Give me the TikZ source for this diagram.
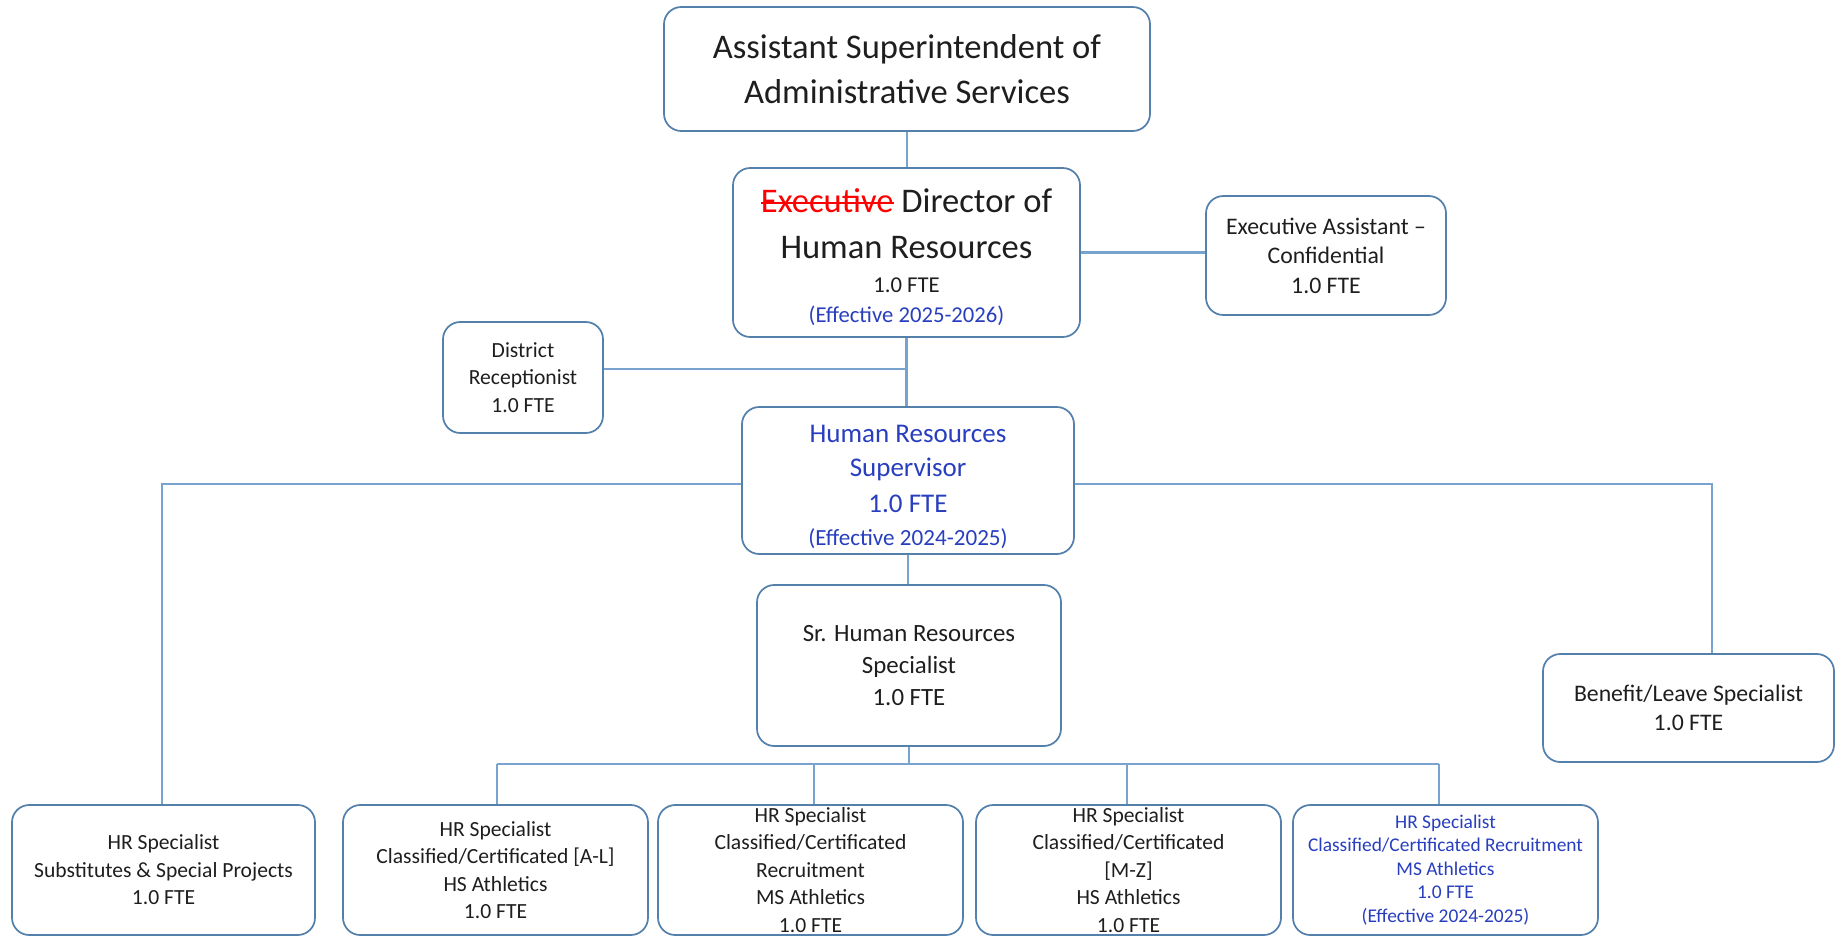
\documentclass[tikz,border=0pt]{standalone}
\usepackage{fontspec}
\setmainfont{Carlito}
\definecolor{boxc}{RGB}{84,128,172}
\definecolor{linec}{RGB}{120,163,206}
\definecolor{txt}{RGB}{30,30,30}
\definecolor{bluet}{RGB}{40,62,190}
\newcommand\setfs[2]{\fontsize{#1}{#2}\selectfont}
\newcommand\strk[1]{\setbox0=\hbox{#1}\leavevmode\rlap{\copy0}\rule[0.25em]{\wd0}{0.075em}}
\newcommand\tallfirst[2]{\raisebox{0pt}[\dimexpr\height+#1\relax][\depth]{#2}}
\tikzset{
  box/.style={draw=boxc, line width=0.8pt, rounded corners=8pt, inner sep=0pt, align=center, text=txt},
  sz/.style 2 args={minimum width=#1*0.463pt, minimum height=#2*0.463pt},
  conn/.style={draw=linec, line width=1pt},
}
\begin{document}
\begin{tikzpicture}[x=0.463pt, y=-0.463pt]
\useasboundingbox (0,0) rectangle (1837,937);
% boxes
\node[box, sz={486}{124}, font=\setfs{16}{20.5}] (title) at (907,69)
  {Assistant Superintendent of\\Administrative Services};
\node[box, sz={347}{169}, font=\setfs{16}{19.4}] (dir) at (906.5,252.5)
  {\tallfirst{4.6pt}{\textcolor{red}{\strk{Executive}} Director of}\\[1.7pt]Human Resources\\[-3.8pt]{\setfs{10.5}{12.6}1.0 FTE}\\[-5.3pt]{\setfs{10.5}{12.6}\color{bluet}(Effective 2025-2026)}};
\node[box, sz={240}{119}, font=\setfs{11}{13.6}] (exec) at (1326,255.5)
  {Executive Assistant --\\Confidential\\1.0 FTE};
\node[box, sz={160}{111}, font=\setfs{10}{12.7}] (dist) at (523,377.5)
  {District\\Receptionist\\1.0 FTE};
\node[box, sz={332}{147}, font=\setfs{12.5}{15.7}, text=bluet] (sup) at (908,480.5)
  {\tallfirst{5.6pt}{Human Resources}\\Supervisor\\[1.4pt]1.0 FTE\\[-0.8pt]{\setfs{10.7}{13}(Effective 2024-2025)}};
\node[box, sz={304}{161}, font=\setfs{11.5}{14.6}] (srhr) at (909,665.5)
  {Sr. Human Resources\\Specialist\\1.0 FTE};
\node[box, sz={291}{108}, font=\setfs{11}{13.4}] (ben) at (1688.5,708)
  {Benefit/Leave Specialist\\1.0 FTE};
\node[box, sz={303}{130}, font=\setfs{10}{12.7}] (b1) at (163.5,870)
  {HR Specialist\\Substitutes \& Special Projects\\1.0 FTE};
\node[box, sz={305}{130}, font=\setfs{10}{12.7}] (b2) at (495.5,870)
  {HR Specialist\\Classified/Certificated [A-L]\\HS Athletics\\1.0 FTE};
\node[box, sz={305}{130}, font=\setfs{10}{12.7}] (b3) at (810.5,870)
  {HR Specialist\\Classified/Certificated\\Recruitment\\MS Athletics\\1.0 FTE};
\node[box, sz={305}{130}, font=\setfs{10}{12.7}] (b4) at (1128.5,870)
  {HR Specialist\\Classified/Certificated\\{[M-Z]}\\HS Athletics\\1.0 FTE};
\node[box, sz={305}{130}, font=\setfs{9}{10.9}, text=bluet] (b5) at (1445.5,870)
  {HR Specialist\\Classified/Certificated Recruitment\\MS Athletics\\1.0 FTE\\(Effective 2024-2025)};
% junction coordinates
\coordinate (dj) at (908,369);
\coordinate (busL) at (162,484);
\coordinate (busR) at (1712,484);
\coordinate (bus2) at (908,764);
\coordinate (v2) at (497,764);
\coordinate (v3) at (814,764);
\coordinate (v4) at (1127,764);
\coordinate (v5) at (1439,764);
% connectors
\draw[conn] (title.south) -- (title.south |- dir.north);
\draw[conn] (dir.east) -- (dir.east -| exec.west);
\draw[conn] (dir.south) -- (dir.south |- sup.north);
\draw[conn] (dist.east |- dj) -- (dj);
\draw[conn] (sup.west |- busL) -- (busL) -- (busL |- b1.north);
\draw[conn] (sup.east |- busR) -- (busR) -- (busR |- ben.north);
\draw[conn] (srhr.north -| sup.south) -- (sup.south);
\draw[conn] (srhr.south) -- (srhr.south |- bus2);
\draw[conn] (v2) -- (v5);
\draw[conn] (v2) -- (v2 |- b2.north);
\draw[conn] (v3) -- (v3 |- b3.north);
\draw[conn] (v4) -- (v4 |- b4.north);
\draw[conn] (v5) -- (v5 |- b5.north);
\end{tikzpicture}
\end{document}
